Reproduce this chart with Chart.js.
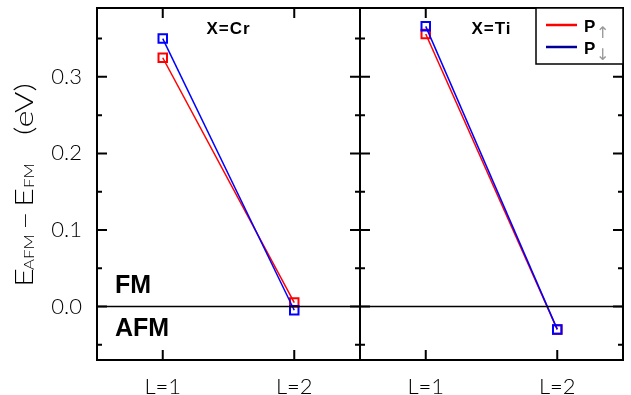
<!DOCTYPE html>
<html>
<head>
<meta charset="utf-8">
<script src="https://cdn.jsdelivr.net/npm/chart.js@4.4.1/dist/chart.umd.min.js"></script>
<style>
  html, body { margin: 0; padding: 0; background: #fff; }
  #wrap { width: 631px; height: 395px; position: relative; }
</style>
</head>
<body>
<div id="wrap"><canvas id="chart" width="631" height="395"></canvas></div>
<script>
// categories on each panel
const categories = ["L=1", "L=2"];
const panels = ["X=Cr", "X=Ti"];

// E_AFM - E_FM (eV)
const crUp = [0.325, 0.005];
const crDown = [0.350, -0.005];
const tiUp = [0.356, -0.030];
const tiDown = [0.366, -0.030];

const yTicks = [0.0, 0.1, 0.2, 0.3];

const lightFont = "Lato, 'DejaVu Sans', sans-serif";

function toPoints(vals, panel) {
    return vals.map((v, i) => ({ x: panel * categories.length + i + 1, y: v }));
}

function series(vals, panel, color) {
    return {
        data: toPoints(vals, panel),
        borderColor: color,
        borderWidth: 1.5,
        pointStyle: "rect",
        pointRadius: 6,
        pointBorderWidth: 2,
        pointBorderColor: color,
        pointBackgroundColor: "rgba(0,0,0,0)",
        fill: false,
        tension: 0
    };
}

// frame, inward ticks, zero line, labels, legend, axis title
const decorations = {
    id: "decorations",
    afterDraw(chart) {
        const { ctx, chartArea: a, scales: { x, y } } = chart;
        const mid = x.getPixelForValue(2.5);
        ctx.save();
        ctx.strokeStyle = "#000";

        // zero line
        ctx.lineWidth = 1.5;
        ctx.beginPath();
        ctx.moveTo(a.left, y.getPixelForValue(0));
        ctx.lineTo(a.right, y.getPixelForValue(0));
        ctx.stroke();

        // ticks
        ctx.lineWidth = 2;
        y.ticks.forEach(t => {
            const py = y.getPixelForValue(t.value);
            const major = Math.abs(t.value * 10 - Math.round(t.value * 10)) < 1e-6;
            const len = major ? 10 : 5;
            ctx.beginPath();
            ctx.moveTo(a.left, py); ctx.lineTo(a.left + len, py);
            ctx.moveTo(mid - len, py); ctx.lineTo(mid + len, py);
            ctx.moveTo(a.right - len, py); ctx.lineTo(a.right, py);
            ctx.stroke();
        });
        x.ticks.forEach(t => {
            const px = x.getPixelForValue(t.value);
            ctx.beginPath();
            ctx.moveTo(px, a.top); ctx.lineTo(px, a.top + 10);
            ctx.moveTo(px, a.bottom); ctx.lineTo(px, a.bottom - 10);
            ctx.stroke();
        });

        // frame + divider
        ctx.strokeRect(a.left, a.top, a.right - a.left, a.bottom - a.top);
        ctx.beginPath();
        ctx.moveTo(mid, a.top); ctx.lineTo(mid, a.bottom);
        ctx.stroke();

        // panel titles
        ctx.fillStyle = "#000";
        ctx.textAlign = "center";
        ctx.textBaseline = "middle";
        ctx.font = "bold 17px 'Liberation Sans', Arial, sans-serif";
        ctx.letterSpacing = "1px";
        panels.forEach((p, i) => {
            ctx.fillText(p, x.getPixelForValue(1.5 + i * 2), y.getPixelForValue(0.362));
        });
        ctx.letterSpacing = "0px";

        // FM / AFM
        ctx.textAlign = "left";
        ctx.font = "bold 25px 'Liberation Sans', Arial, sans-serif";
        ctx.fillText("FM", x.getPixelForValue(0.636), y.getPixelForValue(0.027));
        ctx.fillText("AFM", x.getPixelForValue(0.636), y.getPixelForValue(-0.029));

        // legend
        const lx = a.right - 87, ly = a.top;
        ctx.fillStyle = "#fff";
        ctx.fillRect(lx, ly, 87, 56);
        ctx.strokeStyle = "#000";
        ctx.lineWidth = 1.5;
        ctx.strokeRect(lx, ly, 87, 56);
        [["#ff0000", "\u2191", 17], ["#000099", "\u2193", 39]].forEach(([c, arrow, dy]) => {
            ctx.strokeStyle = c;
            ctx.lineWidth = 2.5;
            ctx.beginPath();
            ctx.moveTo(lx + 10, ly + dy); ctx.lineTo(lx + 41, ly + dy);
            ctx.stroke();
            ctx.fillStyle = "#000";
            ctx.textBaseline = "alphabetic";
            ctx.font = "bold 17px 'Liberation Sans', Arial, sans-serif";
            ctx.fillText("P", lx + 48, ly + dy + 7);
            ctx.fillStyle = "#999";
            ctx.font = "16px 'DejaVu Sans', sans-serif";
            ctx.fillText(arrow, lx + 60, ly + dy + 13);
        });

        // y axis title, pieces placed along the rotated baseline
        const sx = 1.3;
        ctx.translate(33, 287);
        ctx.rotate(-Math.PI / 2);
        ctx.scale(sx, 1);
        ctx.fillStyle = "#000";
        ctx.textBaseline = "alphabetic";
        const big = "300 25px " + lightFont, small = "300 13px " + lightFont;
        [["E", big, 0, 0], ["AFM", small, 17, 1], ["\u2013", big, 57, 0],
         ["E", big, 80, 0], ["FM", small, 99, 1], ["(eV)", big, 152, 0]]
            .forEach(([txt, font, off, dy]) => {
                ctx.font = font;
                ctx.fillText(txt, off / sx, dy);
            });
        ctx.restore();
    }
};

new Chart(document.getElementById("chart"), {
    type: "line",
    data: {
        datasets: [
            series(crDown, 0, "#0000ff"),
            series(tiDown, 1, "#0000ff"),
            series(crUp, 0, "#ff0000"),
            series(tiUp, 1, "#ff0000")
        ]
    },
    options: {
        responsive: false,
        animation: false,
        layout: { padding: { left: 0, top: 6, right: 5, bottom: 0 } },
        plugins: { legend: { display: false }, tooltip: { enabled: false } },
        scales: {
            x: {
                type: "linear",
                min: 0.5,
                max: 4.5,
                grid: { display: false, drawTicks: false },
                border: { display: false },
                afterBuildTicks: s => {
                    s.ticks = [1, 2, 3, 4].map(value => ({ value }));
                },
                ticks: {
                    autoSkip: false,
                    maxRotation: 0,
                    padding: 14,
                    color: "#000",
                    font: { family: lightFont, size: 22, weight: "300" },
                    callback: v => categories[(Math.round(v) - 1) % categories.length]
                },
                afterFit: s => {
                    s.height = 35;
                    s.paddingLeft = 0;
                    s.paddingRight = 0;
                }
            },
            y: {
                min: -0.07,
                max: 0.39,
                grid: { display: false, drawTicks: false },
                border: { display: false },
                ticks: {
                    stepSize: 0.05,
                    includeBounds: false,
                    autoSkip: false,
                    padding: 15,
                    color: "#000",
                    font: { family: lightFont, size: 22, weight: "300" },
                    callback: v => {
                        const hit = yTicks.find(t => Math.abs(t - v) < 1e-6);
                        return hit === undefined ? "" : hit.toFixed(1);
                    }
                },
                afterFit: s => {
                    s.width = 97;
                    s.paddingTop = 0;
                    s.paddingBottom = 0;
                }
            }
        }
    },
    plugins: [decorations]
});
</script>
</body>
</html>
